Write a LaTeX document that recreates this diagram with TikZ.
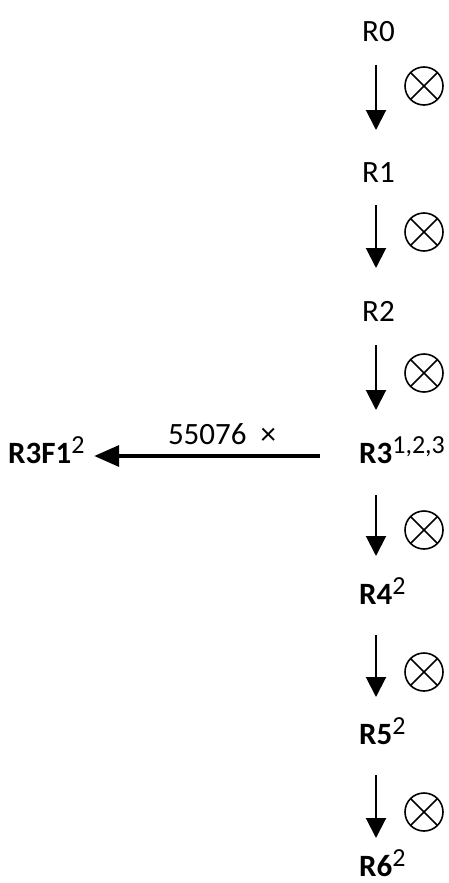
\documentclass[tikz,border=0pt]{standalone}
\usepackage{fontspec}
\setmainfont{Carlito}
\usetikzlibrary{arrows.meta}
\begin{document}
\begin{tikzpicture}[x=1pt,y=-1pt,
  lab/.style={inner sep=0pt, anchor=base west, font=\fontsize{31}{36}\selectfont},
  down/.style={line width=2pt, -{Triangle[width=20pt,length=20pt]}},
  sidearrow/.style={line width=3.5pt, -{Triangle[width=21pt,length=25pt]}, shorten >=9pt},
  otimesmark/.style={circle, draw, line width=1.6pt, minimum size=38pt, inner sep=0pt,
    path picture={\draw[line width=1.6pt]
      (path picture bounding box.north west) -- (path picture bounding box.south east)
      (path picture bounding box.north east) -- (path picture bounding box.south west);}}
]
\useasboundingbox (0,0) rectangle (448,883);
\newcommand{\sups}[1]{\textsuperscript{\fontsize{26}{28}\selectfont\mdseries #1}}
% chain of states
\node[lab] (r0) at (362,42) {R0};
\node[lab] (r1) at (362,182) {R1};
\node[lab] (r2) at (362,321) {R2};
\node[lab] (r3) at (359,463) {\textbf{R3}\sups{1,2,3}};
\node[lab] (r4) at (359,604) {\textbf{R4}\sups{2}};
\node[lab] (r5) at (359,744) {\textbf{R5}\sups{2}};
\node[lab] (r6) at (359,876) {\textbf{R6}\sups{2}};
\node[lab] (r3f1) at (8,463) {\textbf{R3F1}\sups{2}};
% start of the side branch, left of R3
\coordinate (b3) at (320,456);
% arrow axis points
\foreach \i/\top/\tip in {0/65/130,1/205/268,2/345/410,3/495/556,4/635/697,5/775/838}{
  \coordinate (t\i) at (376,\top);
  \coordinate (h\i) at (376,\tip);
}
\draw[down] (t0) -- (h0);
\draw[down] (t1) -- (h1);
\draw[down] (t2) -- (h2);
\draw[down] (t3) -- (h3);
\draw[down] (t4) -- (h4);
\draw[down] (t5) -- (h5);
% tensor product marks
\node[otimesmark] (m0) at (424,86) {};
\node[otimesmark] (m1) at (424,232) {};
\node[otimesmark] (m2) at (424,373) {};
\node[otimesmark] (m3) at (424,530) {};
\node[otimesmark] (m4) at (424,672) {};
\node[otimesmark] (m5) at (424,812) {};
% side branch
\draw[sidearrow] (b3) -- (r3f1.east |- b3);
\node[inner sep=0pt, font=\fontsize{31}{36}\selectfont] (mult) at (222,434) {55076\hspace{0.45em}×};
\end{tikzpicture}
\end{document}
